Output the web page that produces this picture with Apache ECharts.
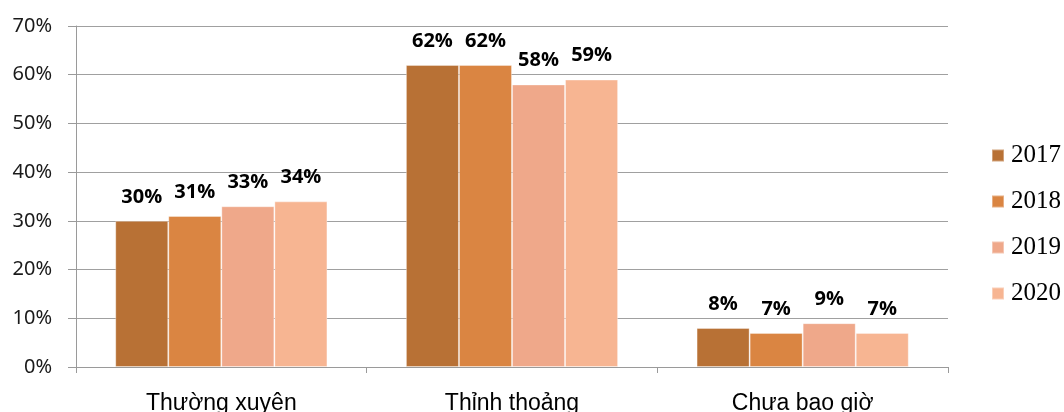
<!DOCTYPE html>
<html>
<head>
<meta charset="utf-8">
<script src="https://cdn.jsdelivr.net/npm/echarts@6/dist/echarts.min.js"></script>
<style>
  html, body { margin: 0; padding: 0; background: #ffffff; }
  #chart { width: 1064px; height: 412px; }
</style>
</head>
<body>
<div id="chart"></div>
<script>
// Survey answers per year, in percent
const categories = ['Thường xuyên', 'Thỉnh thoảng', 'Chưa bao giờ'];
const years = ['2017', '2018', '2019', '2020'];
const values2017 = [30, 62, 8];
const values2018 = [31, 62, 7];
const values2019 = [33, 58, 9];
const values2020 = [34, 59, 7];
const yearColors = ['#B87135', '#DA8542', '#EFA88A', '#F7B592'];
const yTicks = { min: 0, max: 70, interval: 10 };

const seriesValues = [values2017, values2018, values2019, values2020];

const chart = echarts.init(document.getElementById('chart'), null, { renderer: 'canvas' });

const series = years.map((year, i) => ({
  name: year,
  type: 'bar',
  data: seriesValues[i],
  barGap: 0,
  barCategoryGap: '27%',
  itemStyle: {
    color: yearColors[i],
    borderColor: 'rgba(255,255,255,0.35)',
    borderWidth: 1
  },
  label: {
    show: true,
    position: 'top',
    distance: 14,
    formatter: '{c}%',
    fontFamily: '"Open Sans", "Noto Sans", sans-serif',
    fontWeight: 'bold',
    fontSize: 20,
    color: '#000000'
  }
}));

chart.setOption({
  animation: false,
  backgroundColor: '#ffffff',
  grid: {
    left: 76, right: 116, top: 26, bottom: 45,
    containLabel: false,
    outerBoundsMode: 'none'
  },
  legend: {
    data: years,
    orient: 'vertical',
    left: 991,
    top: 143,
    padding: 0,
    icon: 'rect',
    itemWidth: 12,
    itemHeight: 12,
    itemGap: 21,
    textStyle: {
      fontFamily: '"Liberation Serif", "DejaVu Serif", serif',
      fontSize: 25,
      color: '#000000',
      padding: [0, 0, 0, 2]
    }
  },
  xAxis: {
    type: 'category',
    data: categories,
    axisLine: { show: true, lineStyle: { color: '#9a9a9a', width: 1 } },
    axisTick: { show: true, length: 6, lineStyle: { color: '#9a9a9a' } },
    axisLabel: {
      margin: 25,
      fontFamily: '"Liberation Sans", Arial, sans-serif',
      fontSize: 23,
      color: '#000000'
    },
    splitLine: { show: false }
  },
  yAxis: {
    type: 'value',
    min: yTicks.min,
    max: yTicks.max,
    interval: yTicks.interval,
    axisLine: { show: true, lineStyle: { color: '#9a9a9a', width: 1 } },
    axisTick: { show: true, length: 8, lineStyle: { color: '#9a9a9a' } },
    axisLabel: {
      margin: 24,
      formatter: '{value}%',
      fontFamily: '"Noto Sans", "Open Sans", sans-serif',
      fontSize: 20,
      color: '#1a1a1a'
    },
    splitLine: { show: true, lineStyle: { color: '#a0a0a0', width: 1 } }
  },
  series: series
});
</script>
</body>
</html>
